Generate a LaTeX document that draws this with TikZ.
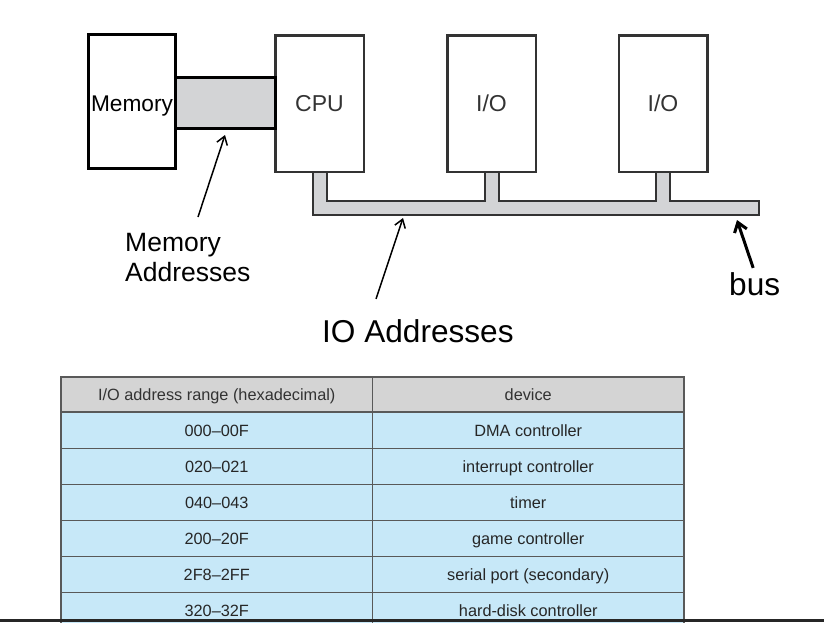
\documentclass[tikz,border=0pt]{standalone}
\usepackage{fontspec}
\setmainfont{Liberation Sans}
\usetikzlibrary{arrows.meta, backgrounds}
\definecolor{busgray}{RGB}{211,212,214}
\definecolor{headgray}{RGB}{212,212,212}
\definecolor{rowblue}{RGB}{199,232,248}
\tikzstyle{membox} = [rectangle, minimum width=87pt, minimum height=134pt, inner sep=0pt, text height=19.9pt, text depth=0pt, draw=black, line width=3pt, fill=white, font=\fontsize{22.7pt}{27pt}\selectfont]
\tikzstyle{unit} = [rectangle, minimum width=88.5pt, minimum height=136.5pt, inner sep=0pt, draw=black!80, line width=2.5pt, fill=white, text=black!80, font=\fontsize{23pt}{27pt}\selectfont]
\tikzstyle{memband} = [rectangle, minimum width=99.75pt, minimum height=51pt, inner sep=0pt, draw=black, line width=3pt, fill=busgray]
\tikzstyle{busline} = [draw=black!80, line width=2pt, double=busgray, double distance=12pt, line cap=rect]
\tikzstyle{tag} = [inner sep=0pt, text=black, font=\fontsize{26.5pt}{30pt}\selectfont]
\tikzstyle{bigtag} = [inner sep=0pt, text=black, font=\fontsize{31.6pt}{36pt}\selectfont]
\tikzstyle{arrow} = [line width=1.5pt, -{Straight Barb[length=8pt, width=11pt]}]
\tikzstyle{thickarrow} = [line width=3pt, -{Straight Barb[length=9pt, width=13pt]}]
\tikzstyle{headcell} = [rectangle, minimum width=311.5pt, minimum height=35pt, inner sep=0pt, text height=12pt, text depth=0pt, draw=black!65, line width=1.2pt, fill=headgray, text=black!80, font=\fontsize{16.3pt}{19pt}\selectfont]
\tikzstyle{cell} = [headcell, minimum height=36pt, fill=rowblue, text=black!85]

\begin{document}
\begin{tikzpicture}[x=1pt, y=-1pt, node distance=36pt]
\useasboundingbox (0,0) rectangle (824,622);
\node (mem) [membox] at (132,101.5) {Memory};
\node (cpu) [unit] at (319.5,103.5) {CPU};
\node (io1) [unit, right of=cpu, xshift=136pt] {I/O};
\node (io2) [unit, right of=io1, xshift=135.5pt] {I/O};
\node (memlink) [memband] at (225.4,103) {};
\coordinate (busend) at (752,208);
\begin{scope}[on background layer]
\draw [busline] (cpu.south) -- (cpu.south |- busend) -- (busend)
  (io1.south) -- (io1.south |- busend)
  (io2.south) -- (io2.south |- busend);
\end{scope}

\node (memaddr) [tag, align=left, anchor=north west] at (125,233) {Memory\\Addresses};
\draw [arrow] ([xshift=73pt, yshift=16pt]memaddr.north west) -- ([xshift=-0.4pt, yshift=-5pt]memlink.south);
\node (ioaddr) [bigtag, anchor=base west] at (322,342) {IO Addresses};
\coordinate (iohead) at (403,218);
\draw [arrow] ([xshift=54pt, yshift=20pt]ioaddr.north west) -- (iohead);
\node (buslabel) [bigtag, anchor=base west] at (729,295) {bus};
\draw [thickarrow] ([xshift=-1.5pt, yshift=4pt]buslabel.north) -- ([xshift=-15pt, yshift=-12pt]busend);

\node (h1) [headcell] at (216.75,394.5) {I/O address range (hexadecimal)};
\node (h2) [headcell, right of=h1, xshift=275.5pt] {device};
\node (a1) [cell, below of=h1] {000–00F};
\node (b1) [cell, below of=h2] {DMA controller};
\node (a2) [cell, below of=a1] {020–021};
\node (b2) [cell, below of=b1] {interrupt controller};
\node (a3) [cell, below of=a2] {040–043};
\node (b3) [cell, below of=b2] {timer};
\node (a4) [cell, below of=a3] {200–20F};
\node (b4) [cell, below of=b3] {game controller};
\node (a5) [cell, below of=a4] {2F8–2FF};
\node (b5) [cell, below of=b4] {serial port (secondary)};
\node (a6) [cell, below of=a5] {320–32F};
\node (b6) [cell, below of=b5] {hard-disk controller};
\draw [line width=2.5pt, black!85] (0,620.5) -- (824,620.5);
\end{tikzpicture}
\end{document}
